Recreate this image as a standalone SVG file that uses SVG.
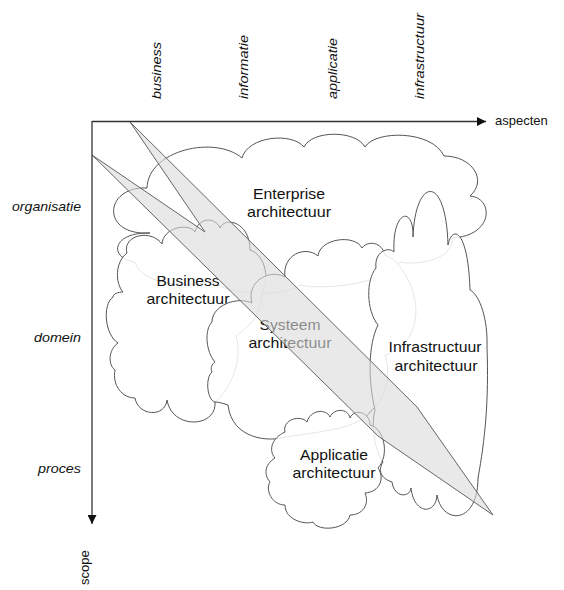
<svg xmlns="http://www.w3.org/2000/svg" width="564" height="590" viewBox="0 0 564 590">
<style>
.cloud{fill:#fff;fill-opacity:0.85;stroke:#555;stroke-width:1}
.lbl{font-family:"Liberation Sans",Arial,sans-serif;font-size:15px;fill:#111;text-anchor:middle}
.ax{font-family:"Liberation Sans",Arial,sans-serif;font-size:13px;fill:#111;font-style:italic}
.axr{font-family:"Liberation Sans",Arial,sans-serif;font-size:13px;fill:#111;font-style:italic;text-anchor:end}
.axn{font-family:"Liberation Sans",Arial,sans-serif;font-size:13px;fill:#111}
.axl{stroke:#333;stroke-width:1.3;fill:none}
.band{fill:#dadada;fill-opacity:0.6;stroke:#666;stroke-width:1}
</style>
<defs>
<marker id="arr" viewBox="0 0 10 10" refX="10" refY="5" markerWidth="9" markerHeight="9" markerUnits="userSpaceOnUse" orient="auto"><path d="M0,0 L10,5 L0,10 z" fill="#111"/></marker>
</defs>
<rect width="564" height="590" fill="#fff"/>

<g id="enterprise">
<path class="cloud" d="M135,262 C108,258 112,232 150,233 C100,236 104,186 147,188 C148,150 215,135 242,158 C248,136 292,132 304,147 C312,130 356,130 365,147 C375,130 432,130 444,156 C472,156 488,180 470,196 C494,198 494,236 452,238 C455,258 420,266 400,262 C385,285 320,290 300,285 C285,298 225,295 210,280 C195,290 140,285 135,262 Z"/>
<text class="lbl" x="289" y="199" textLength="72" lengthAdjust="spacingAndGlyphs">Enterprise</text>
<text class="lbl" x="289" y="217" textLength="84" lengthAdjust="spacingAndGlyphs">architectuur</text>
</g>

<g id="business">
<path class="cloud" d="M127,253 C122,236 150,228 162,244 C163,228 188,222 195,232 C198,218 215,216 220,228 C225,216 250,222 250,250 C266,255 270,282 262,292 C262,318 244,330 236,336 C244,362 228,392 215,402 C217,428 172,430 167,400 C165,418 138,416 135,398 C122,398 112,385 115,370 C108,365 108,350 118,343 C105,335 102,305 113,297 C113,294 118,292 123,292 C115,283 115,262 127,253 Z"/>
<text class="lbl" x="188" y="286" textLength="63" lengthAdjust="spacingAndGlyphs">Business</text>
<text class="lbl" x="188" y="304" textLength="83" lengthAdjust="spacingAndGlyphs">architectuur</text>
</g>

<g id="systeem">
<path class="cloud" d="M252,303 C246,283 268,268 285,277 C282,255 305,245 318,256 C320,238 355,234 362,248 C368,240 382,242 385,255 C405,262 420,300 415,320 C412,340 400,350 385,355 C392,375 385,400 370,412 C360,428 320,432 285,437 C270,442 232,440 228,405 C222,403 218,402 215,402 C207,400 205,378 212,372 C210,368 212,364 215,362 C206,352 204,330 212,322 C212,305 238,296 252,303 Z"/>
<text class="lbl" x="290" y="330" textLength="61" lengthAdjust="spacingAndGlyphs">Systeem</text>
<text class="lbl" x="290" y="348" textLength="83" lengthAdjust="spacingAndGlyphs">architectuur</text>
</g>

<g id="infrastructuur">
<path class="cloud" d="M376,268 C374,252 388,246 394,252 C392,210 414,205 413,237 C415,178 446,172 448,245 C452,225 468,228 470,290 C480,295 488,320 487,347 C489,400 485,440 478,478 C478,525 442,525 437,495 C436,515 414,515 411,488 C410,498 394,498 392,482 C380,478 378,470 383,462 C372,445 372,420 375,410 C368,380 368,345 378,325 C366,310 366,280 376,268 Z"/>
<text class="lbl" x="435" y="352" textLength="93" lengthAdjust="spacingAndGlyphs">Infrastructuur</text>
<text class="lbl" x="436" y="371" textLength="83" lengthAdjust="spacingAndGlyphs">architectuur</text>
</g>

<g id="applicatie">
<path class="cloud" d="M285,432 C282,420 300,414 307,422 C310,410 326,408 330,417 C334,408 348,408 350,418 C354,408 370,412 370,425 C384,428 390,455 378,468 C385,478 380,492 365,493 C370,505 362,515 350,515 C347,530 318,532 313,522 C305,525 285,520 285,505 C272,505 265,490 270,482 C264,475 264,465 275,458 C268,450 272,438 285,432 Z"/>
<text class="lbl" x="334" y="460" textLength="68" lengthAdjust="spacingAndGlyphs">Applicatie</text>
<text class="lbl" x="334" y="478" textLength="83" lengthAdjust="spacingAndGlyphs">architectuur</text>
</g>

<g id="band">
<polygon class="band" points="130,122 417,407 493,515 378,436 92,155 205,232"/>
</g>

<g id="connectors">
<line class="axl" x1="92" y1="121.5" x2="486" y2="121.5" marker-end="url(#arr)"/>
<line class="axl" x1="92" y1="121" x2="92" y2="524" marker-end="url(#arr)"/>
</g>

<g id="axis-labels">
<text class="axn" x="495" y="125">aspecten</text>
<text class="axn" transform="translate(89,585) rotate(-90)">scope</text>
<text class="ax" transform="translate(161,99) rotate(-90)" textLength="57" lengthAdjust="spacingAndGlyphs">business</text>
<text class="ax" transform="translate(248,99) rotate(-90)" textLength="64" lengthAdjust="spacingAndGlyphs">informatie</text>
<text class="ax" transform="translate(337,99) rotate(-90)" textLength="61" lengthAdjust="spacingAndGlyphs">applicatie</text>
<text class="ax" transform="translate(424,99) rotate(-90)" textLength="86" lengthAdjust="spacingAndGlyphs">infrastructuur</text>
<text class="axr" x="81" y="211" textLength="69" lengthAdjust="spacingAndGlyphs">organisatie</text>
<text class="axr" x="81" y="342" textLength="47" lengthAdjust="spacingAndGlyphs">domein</text>
<text class="axr" x="81" y="473" textLength="43" lengthAdjust="spacingAndGlyphs">proces</text>
</g>
</svg>
